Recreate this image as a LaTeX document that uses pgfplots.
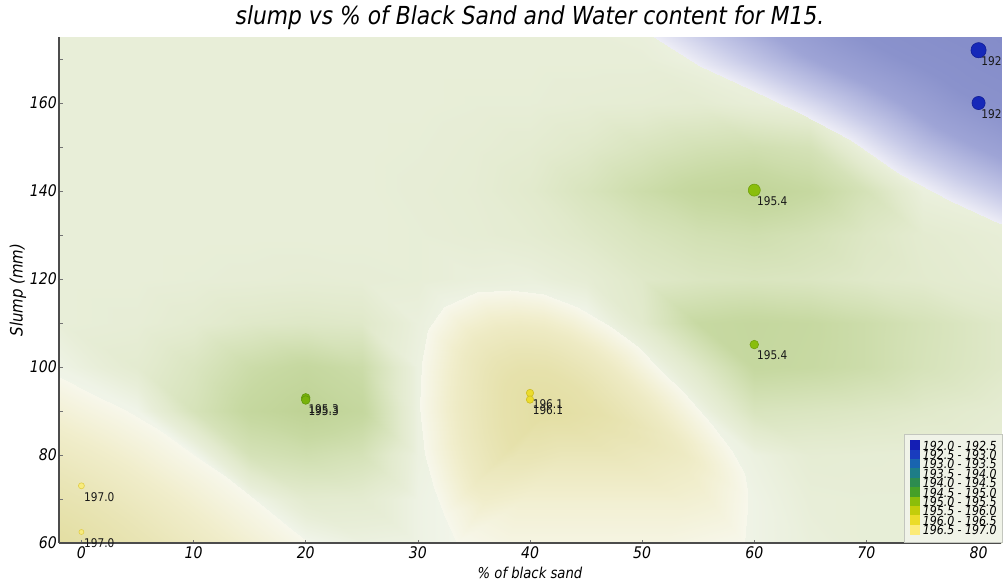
\documentclass[border=0pt]{standalone}
\usepackage{pgfplots}
\pgfplotsset{compat=1.18}
\usepackage{pgfplotstable}
\usepackage{fontspec}
\setmainfont{DejaVu Sans}[FakeStretch=0.88, ItalicFont={DejaVu Sans Oblique}]

\definecolor{lg1}{RGB}{20,30,180}
\definecolor{lg2}{RGB}{25,60,190}
\definecolor{lg3}{RGB}{25,100,175}
\definecolor{lg4}{RGB}{30,125,135}
\definecolor{lg5}{RGB}{45,140,80}
\definecolor{lg6}{RGB}{70,160,40}
\definecolor{lg7}{RGB}{140,190,10}
\definecolor{lg8}{RGB}{195,205,10}
\definecolor{lg9}{RGB}{235,220,40}
\definecolor{lg10}{RGB}{252,235,120}
\definecolor{legbg}{RGB}{240,243,232}
\definecolor{legframe}{RGB}{195,198,190}
\definecolor{p197}{RGB}{248,236,125}
\definecolor{p197d}{RGB}{225,205,70}
\definecolor{p196}{RGB}{236,220,45}
\definecolor{p196d}{RGB}{205,188,30}
\definecolor{p1953}{RGB}{120,178,10}
\definecolor{p1953d}{RGB}{95,150,10}
\definecolor{p1954}{RGB}{138,190,12}
\definecolor{p1954d}{RGB}{112,160,10}
\definecolor{p192}{RGB}{22,40,185}
\definecolor{p192d}{RGB}{15,28,150}

% background field (x, y, estimated value)
\pgfplotstableread{
x y v
-2 60 195.99
5 60 195.99
10 60 195.99
15 60 195.99
20 60 195.97
25 60 195.90
30 60 195.92
35 60 195.99
40 60 195.99
45 60 195.99
50 60 195.99
55 60 195.99
60 60 195.93
65 60 195.87
70 60 195.84
75 60 195.84
82 60 195.84
-2 70 195.99
5 70 195.99
10 70 195.99
15 70 195.95
20 70 195.77
25 70 195.78
30 70 195.92
35 70 195.99
40 70 195.99
45 70 195.99
50 70 195.99
55 70 195.99
60 70 195.93
65 70 195.85
70 70 195.84
75 70 195.84
82 70 195.84
-2 80 195.99
5 80 195.99
10 80 195.97
15 80 195.60
20 80 195.54
25 80 195.60
30 80 195.90
35 80 195.99
40 80 195.99
45 80 195.99
50 80 195.99
55 80 195.99
60 80 195.90
65 80 195.81
70 80 195.82
75 80 195.83
82 80 195.84
-2 90 195.99
5 90 195.95
10 90 195.61
15 90 195.41
20 90 195.31
25 90 195.41
30 90 195.90
35 90 195.99
40 90 195.99
45 90 195.99
50 90 195.99
55 90 195.93
60 90 195.64
65 90 195.66
70 90 195.69
75 90 195.73
82 90 195.79
-2 100 195.93
5 100 195.78
10 100 195.66
15 100 195.50
20 100 195.42
25 100 195.50
30 100 195.90
35 100 195.99
40 100 195.99
45 100 195.99
50 100 195.99
55 100 195.72
60 100 195.42
65 100 195.45
70 100 195.51
75 100 195.61
82 100 195.72
-2 110 195.85
5 110 195.83
10 110 195.78
15 110 195.72
20 110 195.70
25 110 195.72
30 110 195.88
35 110 195.99
40 110 195.99
45 110 195.99
50 110 195.75
55 110 195.45
60 110 195.41
65 110 195.44
70 110 195.51
75 110 195.60
82 110 195.72
-2 120 195.85
5 120 195.85
10 120 195.84
15 120 195.83
20 120 195.82
25 120 195.83
30 120 195.84
35 120 195.87
40 120 195.88
45 120 195.82
50 120 195.72
55 120 195.67
60 120 195.65
65 120 195.67
70 120 195.72
75 120 195.76
82 120 195.81
-2 130 195.85
5 130 195.85
10 130 195.85
15 130 195.85
20 130 195.85
25 130 195.85
30 130 195.84
35 130 195.82
40 130 195.79
45 130 195.72
50 130 195.64
55 130 195.57
60 130 195.54
65 130 195.59
70 130 195.69
75 130 195.78
82 130 195.84
-2 140 195.85
5 140 195.85
10 140 195.85
15 140 195.85
20 140 195.85
25 140 195.85
30 140 195.83
35 140 195.81
40 140 195.75
45 140 195.64
50 140 195.51
55 140 195.40
60 140 195.35
65 140 195.43
70 140 195.60
75 140 195.88
82 140 195.90
-2 150 195.85
5 150 195.85
10 150 195.85
15 150 195.85
20 150 195.85
25 150 195.85
30 150 195.84
35 150 195.82
40 150 195.79
45 150 195.73
50 150 195.65
55 150 195.58
60 150 195.55
65 150 195.60
70 150 195.90
75 150 195.90
82 150 195.90
-2 160 195.85
5 160 195.85
10 160 195.85
15 160 195.85
20 160 195.85
25 160 195.85
30 160 195.85
35 160 195.84
40 160 195.84
45 160 195.82
50 160 195.81
55 160 195.79
60 160 195.85
65 160 195.90
70 160 195.90
75 160 195.90
82 160 195.90
-2 170 195.85
5 170 195.85
10 170 195.85
15 170 195.85
20 170 195.85
25 170 195.85
30 170 195.85
35 170 195.85
40 170 195.85
45 170 195.85
50 170 195.85
55 170 195.90
60 170 195.90
65 170 195.90
70 170 195.90
75 170 195.90
82 170 195.90
-2 175 195.85
5 175 195.85
10 175 195.85
15 175 195.85
20 175 195.85
25 175 195.85
30 175 195.85
35 175 195.85
40 175 195.85
45 175 195.85
50 175 195.87
55 175 195.90
60 175 195.90
65 175 195.90
70 175 195.90
75 175 195.90
82 175 195.90
}\bgdata

% low-value (blue) region, rows from its edge to the top right corner
\pgfplotstableread{
x y v
51.1 175 194.99
55.2 168.5 194.99
59.6 163.2 194.99
64.1 157.8 194.99
68.6 151.5 194.99
73.0 143.9 194.99
77.5 137.8 194.99
82 132.6 194.99
55.74 175 194.3
59.22 169.48 194.3
62.96 164.97 194.3
66.79 160.38 194.3
70.61 155.03 194.3
74.35 148.57 194.3
78.18 143.38 194.3
82 138.96 194.3
61.92 175 193.4
64.58 170.78 193.4
67.44 167.33 193.4
70.37 163.82 193.4
73.29 159.73 193.4
76.15 154.79 193.4
79.08 150.82 193.4
82 147.44 193.4
69.64 175 192.6
71.28 172.4 192.6
73.04 170.28 192.6
74.84 168.12 192.6
76.64 165.6 192.6
78.4 162.56 192.6
80.2 160.12 192.6
82 158.04 192.6
82 175 192.0
82 175 192.0
82 175 192.0
82 175 192.0
82 175 192.0
82 175 192.0
82 175 192.0
82 175 192.0
}\bluedata

% high-value region around 40 % black sand
\pgfplotstableread{
x y v
33.5 60 196.00
32.3 66.7 196.00
31.4 72.7 196.00
30.65 80.3 196.00
30.2 90.9 196.00
30.4 100.8 196.00
30.9 108.3 196.00
32.3 113.6 196.00
35.3 117.0 196.00
38.2 117.6 196.00
41.2 116.7 196.00
44.2 113.6 196.00
47.2 109.1 196.00
49.6 104.5 196.00
51.6 99.25 196.00
53.7 94.0 196.00
56.1 87.1 196.00
57.9 81.1 196.00
59.1 75.8 196.00
59.4 70.5 196.00
59.1 60 196.00
52 60 196.03
45 60 196.03
38 60 196.03
33.5 60 196.00
35.9 69.0 196.10
35.06 73.69 196.14
34.43 77.89 196.14
33.91 83.21 196.14
33.59 90.63 196.14
33.73 97.56 196.14
34.08 102.81 196.14
35.06 106.52 196.14
37.16 108.9 196.14
39.19 109.32 196.14
41.29 108.69 196.14
43.39 106.52 196.14
45.49 103.37 196.14
47.17 100.15 196.14
48.57 96.48 196.14
50.04 92.8 196.14
51.72 87.97 196.14
52.98 83.77 196.14
53.82 80.06 196.14
54.03 76.35 196.12
53.82 69.0 196.08
48.85 69.0 196.08
43.95 69.0 196.08
39.05 69.0 196.08
35.9 69.0 196.10
38.7 79.5 196.20
38.28 81.85 196.25
37.97 83.95 196.25
37.7 86.61 196.25
37.55 90.31 196.25
37.62 93.78 196.25
37.79 96.4 196.25
38.28 98.26 196.25
39.33 99.45 196.25
40.35 99.66 196.25
41.4 99.34 196.25
42.44 98.26 196.25
43.49 96.68 196.25
44.33 95.07 196.25
45.03 93.24 196.25
45.77 91.4 196.25
46.61 88.99 196.25
47.24 86.89 196.23
47.66 85.03 196.22
47.76 83.18 196.20
47.66 79.5 196.18
45.17 79.5 196.18
42.72 79.5 196.18
40.28 79.5 196.20
38.7 79.5 196.20
41.5 90 196.30
41.5 90 196.30
41.5 90 196.30
41.5 90 196.30
41.5 90 196.30
41.5 90 196.30
41.5 90 196.30
41.5 90 196.30
41.5 90 196.30
41.5 90 196.30
41.5 90 196.30
41.5 90 196.30
41.5 90 196.30
41.5 90 196.30
41.5 90 196.30
41.5 90 196.30
41.5 90 196.30
41.5 90 196.30
41.5 90 196.30
41.5 90 196.30
41.5 90 196.30
41.5 90 196.30
41.5 90 196.30
41.5 90 196.30
41.5 90 196.30
}\blobdata

% high-value region in the lower left corner
\pgfplotstableread{
x y v
-2 97.7 196.00
0.95 93.95 196.00
3.93 90.2 196.00
6.9 85.6 196.00
9.9 80.3 196.00
12.86 75.0 196.00
15.8 69.0 196.00
18.8 62.9 196.00
20.3 60 196.00
-2 84.51 196.12
-0.08 82.07 196.12
1.85 79.63 196.12
3.79 76.64 196.12
5.74 73.2 196.12
7.66 69.75 196.12
9.57 65.85 196.12
11.52 61.89 196.12
12.5 60 196.12
-2 71.31 196.22
-1.12 70.19 196.22
-0.22 69.06 196.22
0.67 67.68 196.22
1.57 66.09 196.22
2.46 64.5 196.22
3.34 62.7 196.22
4.24 60.87 196.22
4.69 60 196.22
-2 60 196.30
-2 60 196.30
-2 60 196.30
-2 60 196.30
-2 60 196.30
-2 60 196.30
-2 60 196.30
-2 60 196.30
-2 60 196.30
}\cornerdata

\pgfplotsset{
  pt/.style n args={3}{only marks, mark=*, mark size=#1,
    mark options={fill=#2, draw=#3, line width=0.6pt}, forget plot,
    nodes near coords style={anchor=north west, inner sep=0pt, xshift=2.5pt,
      yshift=-6pt, font=\fontsize{12}{12}\selectfont, text=black!90}},
}

\begin{document}
\begin{tikzpicture}
\begin{axis}[
  width=942pt, height=506pt, scale only axis,
  xmin=-2, xmax=82, ymin=60, ymax=175,
  enlargelimits=false,
  axis x line*=bottom, axis y line*=left,
  axis line style={draw=black!70, line width=1.2pt},
  axis on top,
  xtick={0,10,...,80}, ytick={60,80,...,160}, minor ytick={70,90,...,170},
  tick align=inside,
  major tick length=3.5pt, minor tick length=3.5pt,
  every tick/.style={draw=black!55, line width=0.6pt},
  tick label style={font=\fontsize{16}{16}\selectfont\itshape},
  xticklabel={\pgfmathprintnumber[assume math mode=true]{\tick}},
  yticklabel={\pgfmathprintnumber[assume math mode=true]{\tick}},
  yticklabel style={inner sep=0pt, xshift=-2pt},
  xticklabel style={inner sep=0pt, yshift=-3.5pt},
  title={slump vs \% of Black Sand and Water content for M15.},
  every axis title/.style={font=\fontsize{24.8}{28}\selectfont\itshape,
    at={(axis description cs:0.5,1)}, anchor=base, yshift=12pt},
  xlabel={\% of black sand},
  xlabel style={font=\fontsize{15}{15}\selectfont\itshape,
    at={(axis description cs:0.5,-0.0593)}, anchor=center},
  ylabel={Slump (mm)},
  ylabel style={font=\fontsize{17}{17}\selectfont\itshape,
    at={(axis description cs:-0.0435,0.5)}, anchor=center},
  colormap={fieldmap}{
    rgb255(0pt)=(132,140,201)
    rgb255(600pt)=(138,146,204)
    rgb255(1400pt)=(158,164,214)
    rgb255(2300pt)=(199,202,232)
    rgb255(3000pt)=(237,237,246)
    rgb255(3300pt)=(190,210,148)
    rgb255(3450pt)=(199,217,162)
    rgb255(3600pt)=(213,226,184)
    rgb255(3750pt)=(226,234,205)
    rgb255(3850pt)=(232,238,216)
    rgb255(3950pt)=(240,244,232)
    rgb255(4000pt)=(247,247,235)
    rgb255(4100pt)=(241,238,205)
    rgb255(4200pt)=(233,229,182)
    rgb255(4300pt)=(227,222,162)
    rgb255(5000pt)=(226,221,160)
  },
  point meta min=192, point meta max=197,
  legend cell align=left,
  legend style={
    at={(axis description cs:1,0)}, anchor=south east, xshift=2pt,
    fill=legbg, draw=legframe, line width=0.6pt,
    inner xsep=5pt, inner ysep=5.5pt,
    row sep=-3.1pt, column sep=2pt,
    font=\fontsize{12.5}{12.5}\selectfont\itshape,
    nodes={inner xsep=1pt, inner ysep=0pt, text height=7.5pt, text depth=2.5pt},
  },
  legend image code/.code={\fill[#1] (0pt,-2.5pt) rectangle (10pt,7.5pt);},
]
\addplot[surf, shader=interp, mesh/cols=17, point meta=explicit, forget plot]
  table[x=x, y=y, meta=v] {\bgdata};
\addplot[surf, shader=interp, mesh/cols=9, point meta=explicit, forget plot]
  table[x=x, y=y, meta=v] {\cornerdata};
\addplot[surf, shader=interp, mesh/cols=25, point meta=explicit, forget plot]
  table[x=x, y=y, meta=v] {\blobdata};
\addplot[surf, shader=interp, mesh/cols=8, point meta=explicit, forget plot]
  table[x=x, y=y, meta=v] {\bluedata};

\addplot[pt={3pt}{p197}{p197d}, nodes near coords={197.0}] coordinates {(0,73)};
\addplot[pt={2.5pt}{p197}{p197d}, nodes near coords={197.0}] coordinates {(0,62.5)};
\addplot[pt={4.3pt}{p1953}{p1953d}, nodes near coords={195.3}] coordinates {(20,93)};
\addplot[pt={4.3pt}{p1953}{p1953d}, nodes near coords={195.3}] coordinates {(20,92.5)};
\addplot[pt={3.7pt}{p196}{p196d}, nodes near coords={196.1}] coordinates {(40,94.1)};
\addplot[pt={3.7pt}{p196}{p196d}, nodes near coords={196.1}] coordinates {(40,92.6)};
\addplot[pt={6pt}{p1954}{p1954d}, nodes near coords={195.4}] coordinates {(60,140.2)};
\addplot[pt={4.3pt}{p1954}{p1954d}, nodes near coords={195.4}] coordinates {(60,105.1)};
\addplot[pt={7.6pt}{p192}{p192d}, nodes near coords={192}] coordinates {(80,172)};
\addplot[pt={6.6pt}{p192}{p192d}, nodes near coords={192}] coordinates {(80,160)};

\addlegendimage{fill=lg1, draw=none}\addlegendentry{192.0 - 192.5}
\addlegendimage{fill=lg2, draw=none}\addlegendentry{192.5 - 193.0}
\addlegendimage{fill=lg3, draw=none}\addlegendentry{193.0 - 193.5}
\addlegendimage{fill=lg4, draw=none}\addlegendentry{193.5 - 194.0}
\addlegendimage{fill=lg5, draw=none}\addlegendentry{194.0 - 194.5}
\addlegendimage{fill=lg6, draw=none}\addlegendentry{194.5 - 195.0}
\addlegendimage{fill=lg7, draw=none}\addlegendentry{195.0 - 195.5}
\addlegendimage{fill=lg8, draw=none}\addlegendentry{195.5 - 196.0}
\addlegendimage{fill=lg9, draw=none}\addlegendentry{196.0 - 196.5}
\addlegendimage{fill=lg10, draw=none}\addlegendentry{196.5 - 197.0}

\coordinate (LL) at (rel axis cs:0,0);
\coordinate (UR) at (rel axis cs:1,1);
\end{axis}
\pgfresetboundingbox
\path[use as bounding box] ([xshift=-59pt,yshift=-44pt]LL) rectangle ([xshift=4pt,yshift=37pt]UR);
\end{tikzpicture}
\end{document}
